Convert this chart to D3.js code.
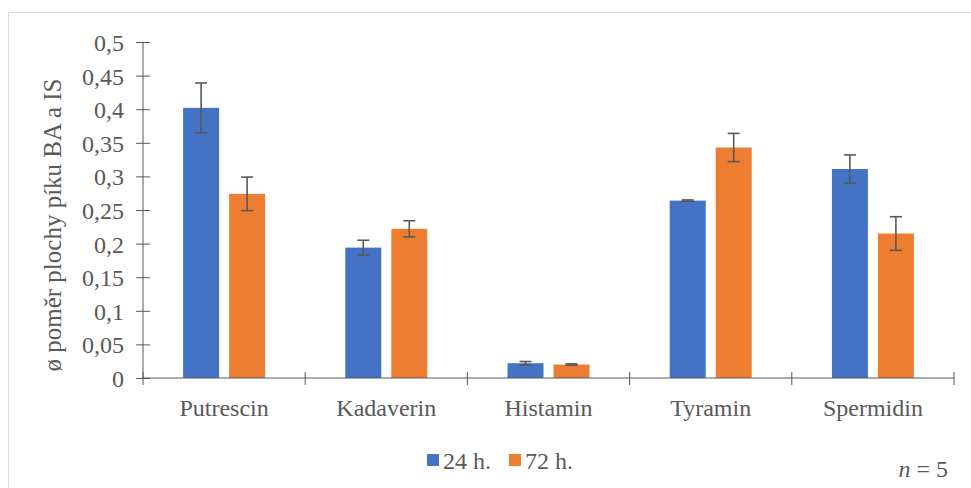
<!DOCTYPE html>
<html><head><meta charset="utf-8">
<script src="https://cdn.jsdelivr.net/npm/d3@7"></script>
<style>
html, body { margin: 0; padding: 0; background: #fff; font-family: "Liberation Serif", serif; }
svg { display: block; }
svg text, svg tspan { font-family: "Liberation Serif", "Times New Roman", Tinos, serif !important; }
</style>
</head><body>
<svg id="chart" width="971" height="488"></svg>
<script>
const categories = ["Putrescin", "Kadaverin", "Histamin", "Tyramin", "Spermidin"];
const seriesNames = ["24 h.", "72 h."];
const values24 = [0.402, 0.194, 0.022, 0.264, 0.311];
const values72 = [0.274, 0.222, 0.020, 0.343, 0.215];
const err24 = [0.037, 0.011, 0.0025, 0.001, 0.021];
const err72 = [0.025, 0.012, 0.001, 0.021, 0.025];
const yTicks = [0, 0.05, 0.1, 0.15, 0.2, 0.25, 0.3, 0.35, 0.4, 0.45, 0.5];
const colors = ["#4472C4", "#ED7D31"];
const yTitle = "ø poměr plochy píku BA a IS";

const svg = d3.select("#chart");
const txt = "#595959";
const FF = '"Liberation Serif"';

function serif(sel, size) {
  return sel.style("font-family", FF).attr("font-size", size).attr("fill", txt);
}

svg.append("rect").attr("x", 8.5).attr("y", 12.5).attr("width", 970).attr("height", 480)
  .attr("fill", "#fff").attr("stroke", "#d9d9d9").attr("stroke-width", 1);

const pL = 143, pR = 954, pT = 42, pB = 378;
const y = d3.scaleLinear().domain([0, 0.5]).range([pB, pT]);
const x0 = d3.scaleBand().domain(categories).range([pL, pR]).padding(0);
const x1 = d3.scaleBand().domain(seriesNames).range([0, 82]).paddingInner(0.2174).paddingOuter(0);

const data = categories.map((c, i) => ({
  cat: c,
  vals: [
    {s: seriesNames[0], v: values24[i], e: err24[i], c: colors[0]},
    {s: seriesNames[1], v: values72[i], e: err72[i], c: colors[1]}
  ]
}));

// bars
const groups = svg.append("g").selectAll("g.cat").data(data).enter().append("g")
  .attr("transform", d => `translate(${x0(d.cat) + x0.bandwidth()/2 - 41},0)`);
groups.selectAll("rect").data(d => d.vals).enter().append("rect")
  .attr("x", d => x1(d.s)).attr("width", x1.bandwidth())
  .attr("y", d => y(d.v)).attr("height", d => y(0) - y(d.v))
  .attr("fill", d => d.c);

// error bars
const eb = groups.selectAll("g.err").data(d => d.vals).enter().append("g")
  .attr("stroke", "#595959").attr("stroke-width", 1.6).attr("fill", "none");
const cx = d => x1(d.s) + x1.bandwidth()/2;
eb.append("line").attr("x1", cx).attr("x2", cx)
  .attr("y1", d => y(d.v + d.e)).attr("y2", d => y(d.v - d.e));
eb.append("line").attr("x1", d => cx(d) - 6).attr("x2", d => cx(d) + 6)
  .attr("y1", d => y(d.v + d.e)).attr("y2", d => y(d.v + d.e));
eb.append("line").attr("x1", d => cx(d) - 6).attr("x2", d => cx(d) + 6)
  .attr("y1", d => y(d.v - d.e)).attr("y2", d => y(d.v - d.e));

// y axis
const yAxis = d3.axisLeft(y).tickValues(yTicks).tickSize(7)
  .tickFormat(d => String(d).replace(".", ","));
const ya = svg.append("g").attr("transform", `translate(${pL},0)`).call(yAxis);
ya.attr("font-family", null).attr("font-size", null);
ya.select(".domain").attr("stroke", "#595959").attr("d", `M0,${pT}V${pB}`);
ya.selectAll(".tick line").attr("stroke", "#595959").attr("x1", 7).attr("x2", -7);
serif(ya.selectAll(".tick text").attr("x", -19).attr("dy", "0.35em"), 24);

// x axis
const xa = svg.append("g").attr("transform", `translate(0,${pB})`);
xa.append("line").attr("x1", pL).attr("x2", pR).attr("stroke", "#595959").attr("stroke-width", 1);
const bounds = categories.map(c => x0(c)).concat([x0(categories[categories.length-1]) + x0.bandwidth()]);
xa.selectAll("line.tk").data(bounds).enter().append("line")
  .attr("x1", d => d).attr("x2", d => d).attr("y1", -6).attr("y2", 7)
  .attr("stroke", "#595959");
serif(xa.selectAll("text").data(categories).enter().append("text")
  .attr("x", d => x0(d) + x0.bandwidth()/2).attr("y", 38)
  .attr("text-anchor", "middle").text(d => d), 24);

// y title
serif(svg.append("text").attr("transform", "translate(61,225) rotate(-90)")
  .attr("text-anchor", "middle").text(yTitle), 25);

// legend
const legX = [427, 509];
seriesNames.forEach((s, i) => {
  svg.append("rect").attr("x", legX[i]).attr("y", 454).attr("width", 12).attr("height", 12).attr("fill", colors[i]);
  serif(svg.append("text").attr("x", legX[i] + 16).attr("y", 469).text(s), 24);
});

// n = 5
const nt = serif(svg.append("text").attr("x", 948).attr("y", 477).attr("text-anchor", "end"), 24);
nt.append("tspan").style("font-style", "italic").text("n");
nt.append("tspan").text(" = 5");
</script>
</body></html>
